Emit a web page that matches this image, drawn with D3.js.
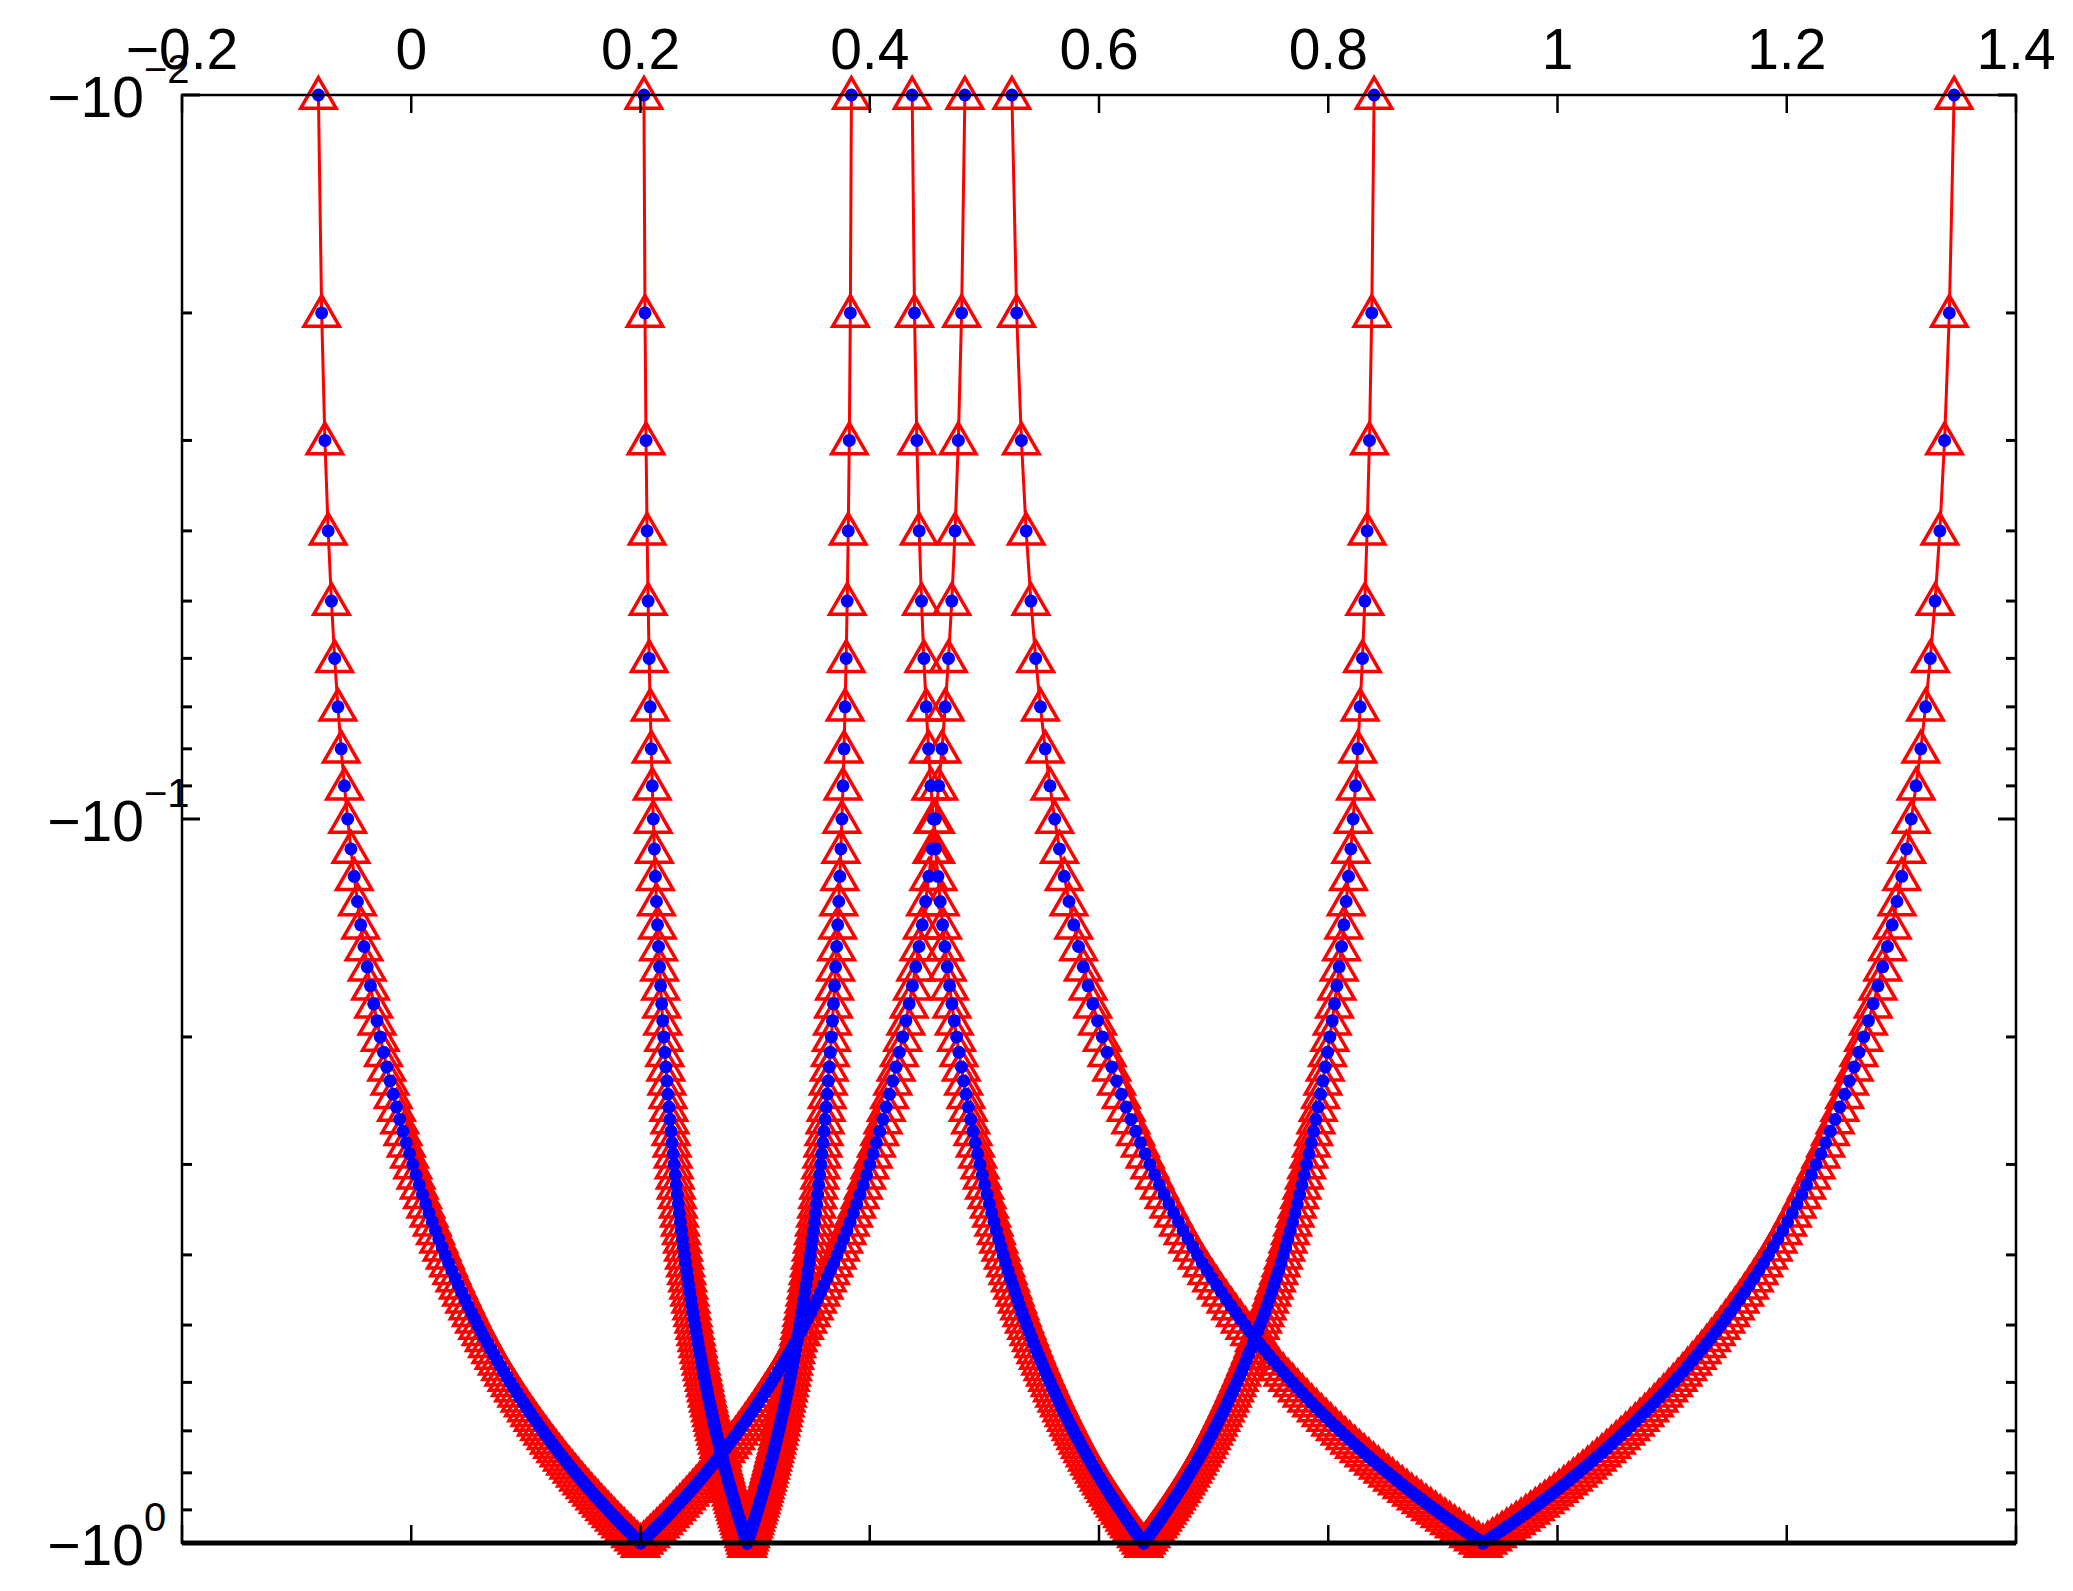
<!DOCTYPE html>
<html><head><meta charset="utf-8">
<script src="https://cdn.jsdelivr.net/npm/d3@7"></script>
<style>body{margin:0;background:#fff}</style>
</head><body>
<svg id="c" width="2073" height="1591"></svg>
<script>
// parameter levels: |y| = 0.01 ... 1.00
const levels = d3.range(1, 101).map(i => i / 100);
// each curve: x at |y|=0.01 (top) and x at |y|=1 (bottom)
const curveStart = [-0.081, 0.203, 0.384, 0.437, 0.483, 0.524, 0.840, 1.346];
const curveEnd   = [ 0.200, 0.293, 0.293, 0.639, 0.200, 0.935, 0.639, 0.935];
const xTicks = [-0.2, 0, 0.2, 0.4, 0.6, 0.8, 1, 1.2, 1.4];
const xTickLabels = ["\u22120.2","0","0.2","0.4","0.6","0.8","1","1.2","1.4"];
const yMajor = [0.01, 0.1, 1];
const yMajorExp = ["\u22122","\u22121","0"];

const svg = d3.select("#c");
const L=182,R=2016,T=95,B=1543;
const x = d3.scaleLinear().domain([-0.2,1.4]).range([L,R]);
const y = d3.scaleLog().domain([0.01,1]).range([T,B]);
const font = "Liberation Sans, Arial, sans-serif";

const series = curveStart.map((s,i)=>levels.map(t=>({x: s + (curveEnd[i]-s)*(t-0.01)/0.99, t})));

const line = d3.line().x(d=>x(d.x)).y(d=>y(d.t));
const tri = d3.symbol().type(d3.symbolTriangle).size(540);
series.forEach(sr=>{
  svg.append("path").attr("d",line(sr)).attr("fill","none").attr("stroke","#f00").attr("stroke-width",3);
  svg.append("g").selectAll("path").data(sr).join("path")
    .attr("d",tri).attr("transform",d=>`translate(${x(d.x)},${y(d.t)+3})`)
    .attr("fill","none").attr("stroke","#f00").attr("stroke-width",3.5);
});
series.forEach(sr=>{
  svg.append("g").selectAll("circle").data(sr).join("circle")
    .attr("cx",d=>x(d.x)).attr("cy",d=>y(d.t)).attr("r",6.5).attr("fill","#00f");
});

// box
const ax = svg.append("g").attr("stroke","#000").attr("fill","none");
ax.append("rect").attr("x",L).attr("y",T).attr("width",R-L).attr("height",B-T).attr("stroke-width",2.5);
ax.append("line").attr("x1",L).attr("x2",R).attr("y1",B).attr("y2",B).attr("stroke-width",5);
xTicks.forEach(v=>{
  ax.append("line").attr("x1",x(v)).attr("x2",x(v)).attr("y1",T).attr("y2",T+18).attr("stroke-width",2.5);
  ax.append("line").attr("x1",x(v)).attr("x2",x(v)).attr("y1",B).attr("y2",B-18).attr("stroke-width",2.5);
});
const yAll = [];
[0.01,0.1].forEach(b=>{for(let k=1;k<10;k++) yAll.push(b*k);}); yAll.push(1);
yAll.forEach(v=>{
  const len = yMajor.includes(+v.toFixed(4)) ? 18 : 10;
  ax.append("line").attr("x1",L).attr("x2",L+len).attr("y1",y(v)).attr("y2",y(v)).attr("stroke-width",3);
  ax.append("line").attr("x1",R).attr("x2",R-len).attr("y1",y(v)).attr("y2",y(v)).attr("stroke-width",3);
});
// x labels (top)
svg.append("g").selectAll("text").data(xTicks).join("text")
  .attr("x",d=>x(d)).attr("y",T-26).attr("text-anchor","middle")
  .attr("font-family",font).attr("font-size",57).text((d,i)=>xTickLabels[i]);
// y labels
yMajor.forEach((v,i)=>{
  svg.append("text").attr("x",L-38).attr("y",y(v)+22).attr("text-anchor","end")
    .attr("font-family",font).attr("font-size",57).text("\u221210");
  svg.append("text").attr("x",L-38).attr("y",y(v)-12).attr("text-anchor","start")
    .attr("font-family",font).attr("font-size",40).text(yMajorExp[i]);
});
</script>
</body></html>
